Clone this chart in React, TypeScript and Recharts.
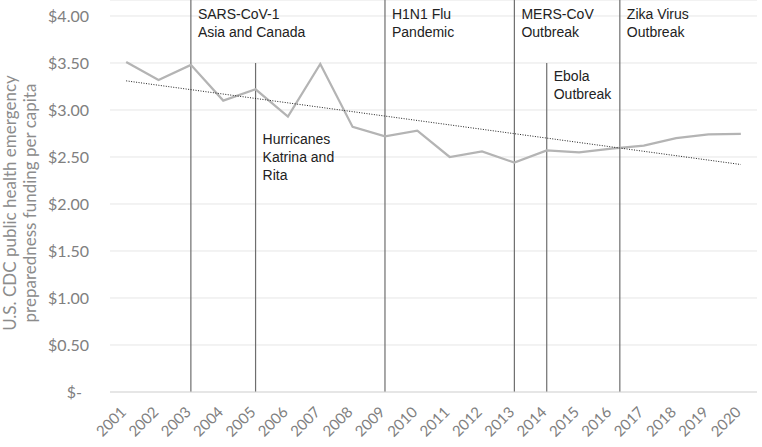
import React from "react";
import { LineChart, Line, XAxis, YAxis, CartesianGrid, ReferenceLine } from "recharts";

const years = [2001, 2002, 2003, 2004, 2005, 2006, 2007, 2008, 2009, 2010, 2011, 2012, 2013, 2014, 2015, 2016, 2017, 2018, 2019, 2020];
const funding = [3.51, 3.32, 3.48, 3.1, 3.22, 2.93, 3.49, 2.82, 2.72, 2.78, 2.5, 2.56, 2.44, 2.57, 2.55, 2.59, 2.62, 2.7, 2.74, 2.745];
const trendStart = 3.31;
const trendEnd = 2.42;
const yTicks = [0, 0.5, 1, 1.5, 2, 2.5, 3, 3.5, 4];

const eventYears = [2003, 2005, 2009, 2013, 2014, 2016.26];
const eventTops = [4.17, 3.5, 4.17, 4.17, 3.5, 4.17];
const eventLabels = [
  ["SARS-CoV-1", "Asia and Canada"],
  ["Hurricanes", "Katrina and", "Rita"],
  ["H1N1 Flu", "Pandemic"],
  ["MERS-CoV", "Outbreak"],
  ["Ebola", "Outbreak"],
  ["Zika Virus", "Outbreak"],
];
const labelOffsets = [14, 76, 14, 14, 13, 14];

const data = years.map((y, i) => ({
  year: y,
  funding: funding[i],
  trend: i === 0 ? trendStart : i === years.length - 1 ? trendEnd : null,
}));

const FONT = "Lato, 'Noto Sans', sans-serif";

const YTick = (props: any) => {
  const { x, y, payload } = props;
  const v = payload.value;
  const txt = v === 0 ? "$-" : `$${v.toFixed(2)}`;
  return (
    <text x={x - (v === 0 ? 7 : 0)} y={y} dy={6} textAnchor="end" fill="#808080" fontSize={16} fontFamily={FONT}>
      {txt}
    </text>
  );
};

const XTick = (props: any) => {
  const { x, y, payload } = props;
  const ty = y + 13;
  return (
    <text
      x={x + 1}
      y={ty}
      textAnchor="end"
      fill="#808080"
      fontSize={15}
      fontFamily={FONT}
      transform={`rotate(-45 ${x + 1} ${ty})`}
    >
      {payload.value}
    </text>
  );
};

const makeLabel = (lines: string[], offset: number) => (props: any) => {
  const vb = props.viewBox || {};
  const x = vb.x + 7;
  const y = vb.y + offset + 5;
  return (
    <text x={x} y={y} fill="#222" fontSize={14} fontFamily="'Liberation Sans', Arial, sans-serif">
      {lines.map((l, i) => (
        <tspan key={i} x={x} dy={i === 0 ? 0 : 18}>
          {l}
        </tspan>
      ))}
    </text>
  );
};

export default function App() {
  return (
    <div style={{ position: "absolute", left: 0, top: 0, width: 762, height: 447, background: "#fff" }}>
      <LineChart width={762} height={447} data={data} margin={{ top: 0, right: 5, left: 0, bottom: 0 }}>
        <CartesianGrid vertical={false} stroke="#e6e6e6" />
        <XAxis
          dataKey="year"
          type="number"
          domain={[2000.5, 2020.5]}
          ticks={years}
          interval={0}
          height={55}
          tick={<XTick />}
          tickLine={false}
          axisLine={{ stroke: "#d9d9d9" }}
        />
        <YAxis
          domain={[0, 4.17]}
          ticks={yTicks}
          width={110}
          tick={<YTick />}
          tickLine={false}
          axisLine={false}
          tickMargin={15}
        />
        {eventYears.map((ey, i) => (
          <ReferenceLine
            key={i}
            segment={[
              { x: ey, y: 0 },
              { x: ey, y: eventTops[i] },
            ]}
            stroke="#6e6e6e"
            strokeWidth={1.2}
            label={makeLabel(eventLabels[i], labelOffsets[i])}
          />
        ))}
        <Line dataKey="funding" stroke="#b4b4b4" strokeWidth={2.25} dot={false} isAnimationActive={false} />
        <Line dataKey="trend" stroke="#222" strokeWidth={1} strokeDasharray="1 1.5" dot={false} connectNulls isAnimationActive={false} />
        <text
          transform="translate(16 203) rotate(-90)"
          textAnchor="middle"
          fill="#8c8c8c"
          fontSize={17}
          fontFamily={FONT}
        >
          <tspan x={0} dy={0}>U.S. CDC public health emergency</tspan>
          <tspan x={0} dy={20}>preparedness funding per capita</tspan>
        </text>
      </LineChart>
    </div>
  );
}
